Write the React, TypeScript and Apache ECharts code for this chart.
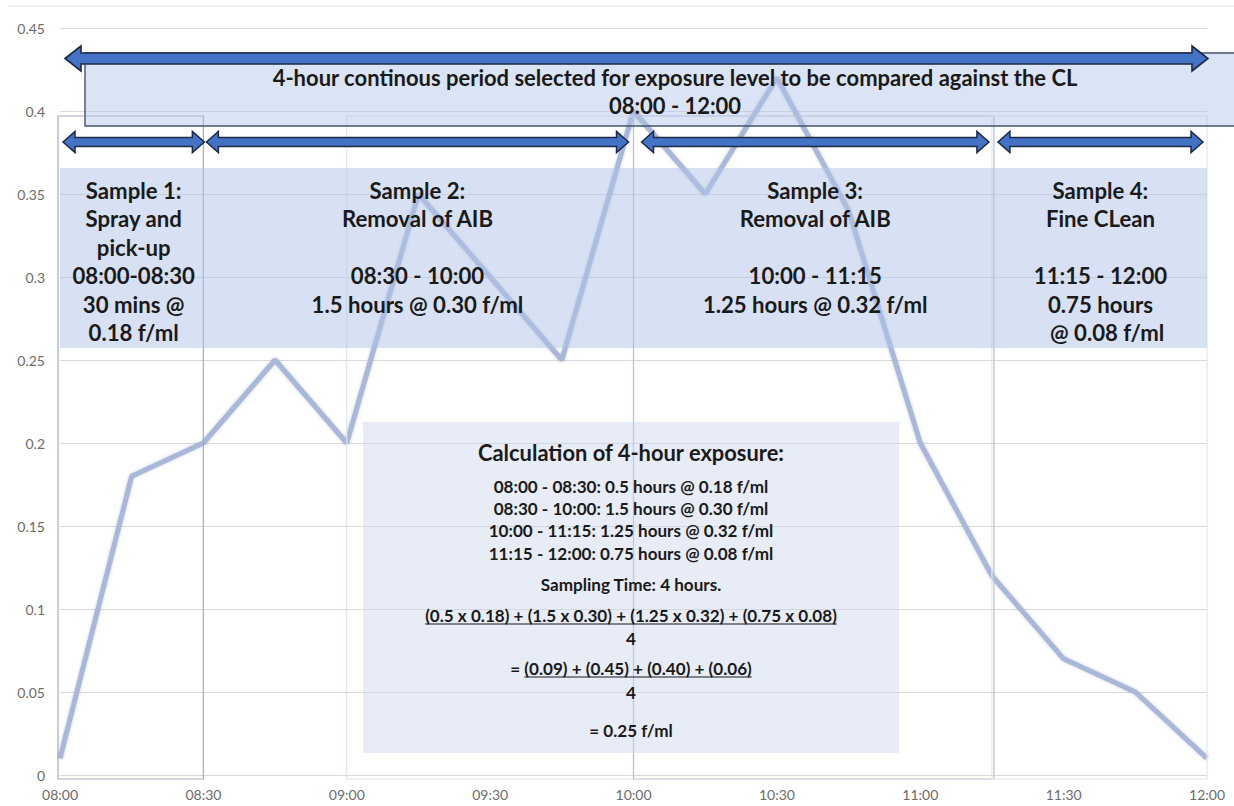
import React, { useEffect, useRef } from "react";
import * as echarts from "echarts";

// ---------------- DATA ----------------
const times = [
  "08:00", "08:15", "08:30", "08:45", "09:00", "09:15", "09:30", "09:45",
  "10:00", "10:15", "10:30", "10:45", "11:00", "11:15", "11:30", "11:45", "12:00",
];
const values = [
  0.01, 0.18, 0.2, 0.25, 0.2, 0.35, 0.3, 0.25,
  0.4, 0.35, 0.42, 0.34, 0.2, 0.12, 0.07, 0.05, 0.01,
];
const xTickLabels = ["08:00", "08:30", "09:00", "09:30", "10:00", "10:30", "11:00", "11:30", "12:00"];
const yTickLabels = ["0", "0.05", "0.1", "0.15", "0.2", "0.25", "0.3", "0.35", "0.4", "0.45"];

const periodTitle = [
  "4-hour continous period selected for exposure level to be compared against the CL",
  "08:00 - 12:00",
];
const periodStart = "08:00";
const periodEnd = "12:00";

const sampleStart = ["08:00", "08:30", "10:00", "11:15"];
const sampleEnd = ["08:30", "10:00", "11:15", "12:00"];
const sampleText = [
  ["Sample 1:", "Spray and", "pick-up", "08:00-08:30", "30 mins @", "0.18 f/ml"],
  ["Sample 2:", "Removal of AIB", "", "08:30 - 10:00", "1.5 hours @ 0.30 f/ml"],
  ["Sample 3:", "Removal of AIB", "", "10:00 - 11:15", "1.25 hours @ 0.32 f/ml"],
  ["Sample 4:", "Fine CLean", "", "11:15 - 12:00", "0.75 hours", " @ 0.08 f/ml"],
];
// outlined boxes drawn in the original
const boxStart = ["08:00", "09:00", "10:00", "11:15"];
const boxEnd = ["08:30", "10:00", "11:15", "12:00"];

const calcTitle = "Calculation of 4-hour exposure:";
const calcLines = [
  "08:00 - 08:30: 0.5 hours @ 0.18 f/ml",
  "08:30 - 10:00: 1.5 hours @ 0.30 f/ml",
  "10:00 - 11:15: 1.25 hours @ 0.32 f/ml",
  "11:15 - 12:00: 0.75 hours @ 0.08 f/ml",
];
const calcSampling = "Sampling Time: 4 hours.";
const calcFormula = "(0.5 x 0.18) + (1.5 x 0.30) + (1.25 x 0.32) + (0.75 x 0.08)";
const calcDivisor = "4";
const calcStep = "(0.09) + (0.45) + (0.40) + (0.06)";
const calcResult = "= 0.25 f/ml";

// ---------------- HELPERS ----------------
const toMin = (t: string) => {
  const [h, m] = t.split(":").map(Number);
  return h * 60 + m;
};
const FONT = "Lato";
let measureCtx: CanvasRenderingContext2D | null = null;
function measure(text: string, size: number, weight = "bold") {
  if (!measureCtx) measureCtx = document.createElement("canvas").getContext("2d");
  measureCtx!.font = `${weight} ${size}px ${FONT}`;
  return measureCtx!.measureText(text).width;
}
function fit(text: string, width: number) {
  return (100 * width) / measure(text, 100);
}

function dblArrow(x0: number, x1: number, cy: number, shaft: number, head: number, len: number) {
  const h = shaft / 2;
  const H = head / 2;
  return [
    [x0, cy], [x0 + len, cy - H], [x0 + len, cy - h], [x1 - len, cy - h], [x1 - len, cy - H],
    [x1, cy], [x1 - len, cy + H], [x1 - len, cy + h], [x0 + len, cy + h], [x0 + len, cy + H],
  ];
}

function txt(text: string, x: number, y: number, size: number, z = 6, color = "#1a1a1a", weight = "bold") {
  return {
    type: "text",
    x,
    y,
    z,
    silent: true,
    style: {
      text,
      fill: color,
      font: `${weight} ${size}px ${FONT}`,
      align: "center",
      verticalAlign: "middle",
      textAlign: "center",
      textVerticalAlign: "middle",
    },
  };
}

export default function App() {
  const ref = useRef<HTMLDivElement>(null);

  useEffect(() => {
    document.body.style.margin = "0";
    const chart = echarts.init(ref.current!, undefined, { renderer: "svg" });
    chart.setOption({
      animation: false,
      backgroundColor: "#ffffff",
      grid: { left: 60, right: 27, top: 28, bottom: 31, containLabel: false },
      xAxis: {
        type: "value",
        min: toMin(periodStart),
        max: toMin(periodEnd),
        interval: 30,
        axisLine: { show: true, lineStyle: { color: "#d9d9d9", width: 1 } },
        axisTick: { show: false },
        splitLine: { show: false },
        axisLabel: {
          color: "#6b6b6b",
          fontSize: 14,
          fontFamily: FONT,
          margin: 12,
          formatter: (v: number) => xTickLabels[Math.round((v - toMin(periodStart)) / 30)] ?? "",
        },
      },
      yAxis: {
        type: "value",
        min: 0,
        max: 0.45,
        interval: 0.05,
        axisLine: { show: false },
        axisTick: { show: false },
        splitLine: { show: true, lineStyle: { color: "#d9d9d9", width: 1 } },
        axisLabel: {
          color: "#6b6b6b",
          fontSize: 14,
          fontFamily: FONT,
          margin: 15,
          formatter: (v: number) => yTickLabels[Math.round(v / 0.05)] ?? "",
        },
      },
      series: [
        {
          type: "line",
          data: times.map((t, i) => [toMin(t), values[i]]),
          symbol: "none",
          z: 2,
          lineStyle: {
            color: "#a9b7d8",
            width: 5,
            shadowBlur: 3,
            shadowColor: "rgba(80,100,150,0.35)",
          },
        },
      ],
    });

    const X = (t: string) => chart.convertToPixel({ gridIndex: 0 }, [toMin(t), 0])[0];
    const Y = (v: number) => chart.convertToPixel({ gridIndex: 0 }, [toMin(periodStart), v])[1];

    const g: any[] = [];
    // outer frame line
    g.push({ type: "line", z: 1, silent: true, shape: { x1: 8, y1: 6, x2: 1234, y2: 6 }, style: { stroke: "#e3e3e3", lineWidth: 1 } });

    // outlined boxes
    const boxColors = ["#a3acc2", "#dfe4ee", "#b8c0d4", "#e3e7ef"];
    boxStart.forEach((s, i) => {
      const x0 = X(s) - (i === 0 ? 2 : 0);
      const x1 = X(boxEnd[i]) + (i === 2 ? 2 : 0);
      g.push({
        type: "rect", z: 3, silent: true,
        shape: { x: x0, y: Y(0.4) + 5, width: x1 - x0, height: Y(0) + 4 - (Y(0.4) + 5) },
        style: { fill: "none", stroke: boxColors[i], lineWidth: 1.2 },
      });
    });

    // sample band
    const bandTop = 168;
    const bandBottom = 348;
    g.push({
      type: "rect", z: 3, silent: true,
      shape: { x: X(periodStart), y: bandTop, width: X(periodEnd) - X(periodStart), height: bandBottom - bandTop },
      style: { fill: "rgba(176,196,232,0.5)" },
    });

    // top period box
    g.push({
      type: "rect", z: 3, silent: true,
      shape: { x: X(periodStart) + 25, y: 53, width: 1180, height: 73 },
      style: { fill: "rgba(176,196,232,0.45)", stroke: "#42546e", lineWidth: 1.4 },
    });

    // top arrow
    g.push({
      type: "polygon", z: 5, silent: true,
      shape: { points: dblArrow(X(periodStart) + 5, X(periodEnd) + 1, 58.5, 11, 25, 16) },
      style: { fill: "#4472c4", stroke: "#1c2a45", lineWidth: 1.6 },
    });
    const pTitleSize = fit(periodTitle[0], 806);
    const pCenter = X(periodStart) + 25 + 1180 / 2;
    g.push(txt(periodTitle[0], pCenter, 77, pTitleSize));
    g.push(txt(periodTitle[1], pCenter, 105, pTitleSize));

    // sample arrows + text
    const padL = [3, 3, 8, 6];
    const padR = [-1, 5, 3, 4];
    const sampleSize = fit("1.5 hours @ 0.30 f/ml", 212);
    sampleStart.forEach((s, i) => {
      const x0 = X(s) + padL[i];
      const x1 = X(sampleEnd[i]) - padR[i];
      g.push({
        type: "polygon", z: 5, silent: true,
        shape: { points: dblArrow(x0, x1, 142, 9, 21, 12) },
        style: { fill: "#4472c4", stroke: "#1c2a45", lineWidth: 1.5 },
      });
      const cx = (x0 + x1) / 2;
      sampleText[i].forEach((line, j) => {
        if (line.trim()) g.push(txt(line, cx + (line.startsWith(" ") ? 4 : 0), 190 + j * 28.5, sampleSize));
      });
    });

    // calculation box
    const cx0 = 363, cx1 = 899, cy0 = 422, cy1 = 753;
    g.push({
      type: "rect", z: 3, silent: true,
      shape: { x: cx0, y: cy0, width: cx1 - cx0, height: cy1 - cy0 },
      style: { fill: "rgba(205,212,234,0.45)" },
    });
    const ccx = (cx0 + cx1) / 2;
    const calcTitleSize = fit(calcTitle, 307);
    const calcSize = fit(calcFormula, 412);
    g.push(txt(calcTitle, ccx, 452, calcTitleSize));
    calcLines.forEach((l, i) => g.push(txt(l, ccx, 486 + i * 22.4, calcSize)));
    g.push(txt(calcSampling, ccx, 584, calcSize));
    g.push(txt(calcFormula, ccx, 615, calcSize));
    const fw = measure(calcFormula, calcSize);
    g.push({ type: "line", z: 6, silent: true, shape: { x1: ccx - fw / 2, y1: 624, x2: ccx + fw / 2, y2: 624 }, style: { stroke: "#1a1a1a", lineWidth: 1.2 } });
    g.push(txt(calcDivisor, ccx, 638, calcSize));
    const stepFull = "= " + calcStep;
    g.push(txt(stepFull, ccx, 668, calcSize));
    const sw = measure(stepFull, calcSize);
    const pre = measure("= ", calcSize);
    g.push({ type: "line", z: 6, silent: true, shape: { x1: ccx - sw / 2 + pre, y1: 677, x2: ccx + sw / 2, y2: 677 }, style: { stroke: "#1a1a1a", lineWidth: 1.2 } });
    g.push(txt(calcDivisor, ccx, 692, calcSize));
    g.push(txt(calcResult, ccx, 730, calcSize));

    chart.setOption({ graphic: { elements: g } });

    return () => chart.dispose();
  }, []);

  return (
    <div
      ref={ref}
      style={{ position: "absolute", left: 0, top: 0, width: 1234, height: 806 }}
    />
  );
}
